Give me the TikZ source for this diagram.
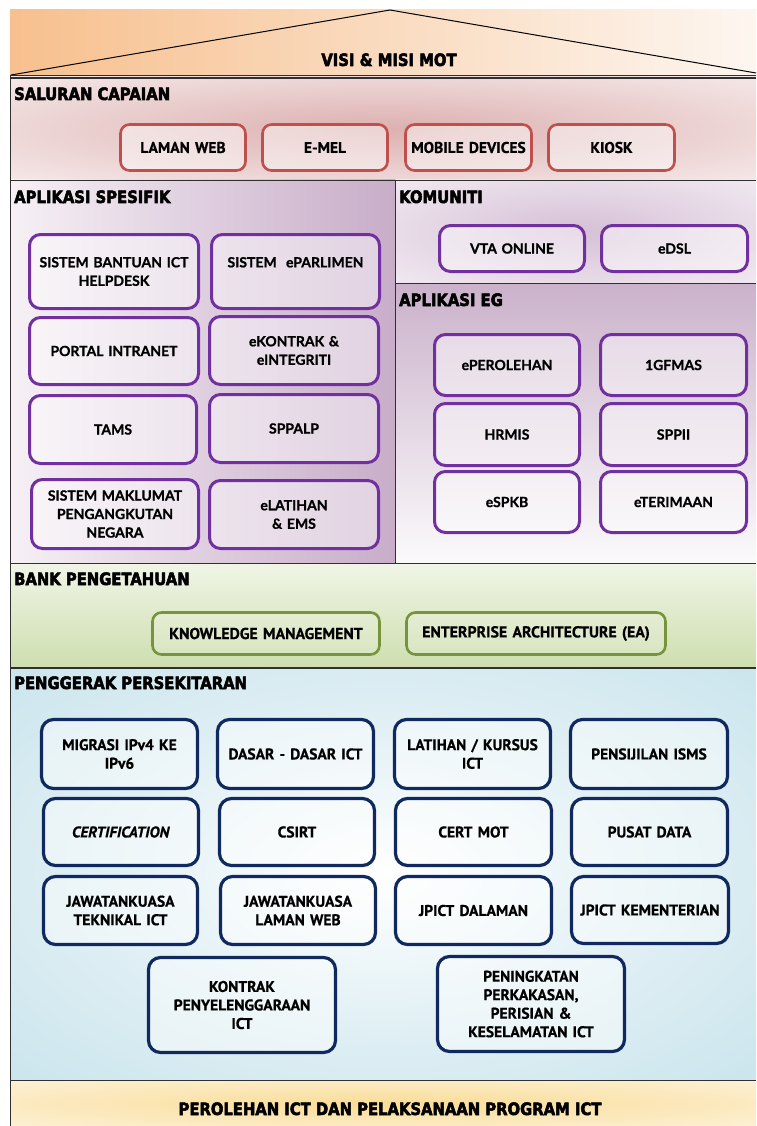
\documentclass[tikz,border=0pt]{standalone}
\usepackage{fontspec}
\setmainfont{Lato}[BoldFeatures={FakeBold=1}]
\newfontfamily\titlefont[FakeStretch=0.87,BoldFeatures={FakeBold=3}]{DejaVu Sans}
\newfontfamily\condfont[BoldFeatures={FakeBold=0.6},BoldItalicFeatures={FakeBold=0.6}]{PT Sans}
\definecolor{boxred}{HTML}{C0504D}
\definecolor{boxpur}{HTML}{7030A0}
\definecolor{boxgrn}{HTML}{77933C}
\definecolor{boxnav}{HTML}{10295E}
\definecolor{secline}{HTML}{303030}
\definecolor{roofL}{HTML}{F7C08E}
\definecolor{roofR}{HTML}{FDF6F0}
\definecolor{pinkc}{HTML}{DDB0B0}
\definecolor{spesL}{HTML}{F6F0F5}
\definecolor{spesR}{HTML}{C8ADC9}
\definecolor{komc}{HTML}{D6C0D6}
\definecolor{egtop}{HTML}{CBB2CB}
\definecolor{egbot}{HTML}{FBFAFB}
\definecolor{banktop}{HTML}{F0F5E6}
\definecolor{bankbot}{HTML}{CEDEAF}
\definecolor{pgblue}{HTML}{ADD6E3}
\definecolor{btmc}{HTML}{F9DC96}
\definecolor{btmo}{HTML}{FEF9EF}
\pgfdeclareradialshading{pinkrad}{\pgfpoint{0bp}{0bp}}{color(0bp)=(pinkc); color(50bp)=(white); color(71bp)=(white)}
\pgfdeclareradialshading{komrad}{\pgfpoint{0bp}{0bp}}{color(0bp)=(komc); color(55bp)=(white); color(71bp)=(white)}
\pgfdeclareradialshading{bluerad}{\pgfpoint{0bp}{0bp}}{color(0bp)=(white); color(20bp)=(white!60!pgblue); color(60bp)=(pgblue); color(71bp)=(pgblue)}
\pgfdeclareradialshading{btmrad}{\pgfpoint{0bp}{0bp}}{color(0bp)=(btmc); color(50bp)=(btmo); color(71bp)=(btmo)}
\newcommand\mkbox[7]{%
  \pgfmathsetmacro\mbcx{(#3+#5)/2}%
  \pgfmathsetmacro\mbcy{(#4+#6)/2}%
  \pgfmathsetmacro\mbw{#5-#3-3}%
  \pgfmathsetmacro\mbh{#6-#4-3}%
  \pgfmathsetmacro\mbtw{#5-#3-6}%
  \node[#1,minimum width=\mbw pt,minimum height=\mbh pt,text width=\mbtw pt] (#2) at (\mbcx,\mbcy) {#7};}
\tikzset{
  sbox/.style={rounded corners=9pt, align=center, inner sep=0pt, fill=white, fill opacity=0.45, text opacity=1,
    font=\bfseries\fontsize{14}{18.5}\selectfont},
  redbox/.style={sbox, draw=boxred, line width=2.6pt, font=\condfont\bfseries\fontsize{15.5}{18}\selectfont},
  purbox/.style={sbox, draw=boxpur, line width=3pt, rounded corners=11pt},
  grnbox/.style={sbox, draw=boxgrn, line width=2.6pt, fill opacity=0.15, font=\condfont\bfseries\fontsize{15.8}{18}\selectfont},
  navbox/.style={sbox, draw=boxnav, line width=3.2pt, rounded corners=12pt, font=\condfont\bfseries\fontsize{15.5}{18.5}\selectfont},
  secl/.style={draw=secline, line width=1.2pt},
  ttl/.style={font=\titlefont\bfseries\fontsize{17}{20}\selectfont, anchor=base west, inner sep=0pt},
}
\begin{document}
\begin{tikzpicture}[x=1pt,y=-1pt]
\useasboundingbox (0,0) rectangle (756,1126);
\fill[white] (0,0) rectangle (756,1126);
% backgrounds
\shade[left color=roofL, right color=roofR] (10,10) rectangle (756,76);
\shade[shading=pinkrad] (10,77) rectangle (756,180);
\shade[left color=spesL, right color=spesR] (10,180) rectangle (395,563);
\shade[shading=komrad] (396,180) rectangle (756,283);
\shade[top color=egtop, bottom color=egbot] (396,284) rectangle (756,563);
\shade[top color=banktop, bottom color=bankbot] (10,563) rectangle (756,668);
\shade[shading=bluerad] (10,668) rectangle (756,1080);
\shade[shading=btmrad] (10,1081) rectangle (756,1126);
% roof
\coordinate (rl) at (11,75);
\coordinate (ra) at (390,10);
\coordinate (rr) at (756,73);
\draw[line width=1pt] (rl) -- (ra) -- (rr);
% section lines
\draw[secl] (10,75.5) -- (756,75.5);
\draw[secl] (10,78) -- (756,78);
\draw[secl] (10.5,75) -- (10.5,1126);
\draw[secl] (10,180.5) -- (756,180.5);
\draw[secl] (395.5,180) -- (395.5,563);
\draw[secl] (396,283.5) -- (756,283.5);
\draw[secl] (10,563.5) -- (756,563.5);
\draw[secl] (10,668) -- (756,668);
\draw[secl] (10,1080.5) -- (756,1080.5);
% titles
\node[ttl, anchor=base] (visi) at (389,66) {VISI \& MISI MOT};
\node[ttl] (tsal) at (14,100) {SALURAN CAPAIAN};
\node[ttl] (tspe) at (14,203) {APLIKASI SPESIFIK};
\node[ttl] (tkom) at (399,203) {KOMUNITI};
\node[ttl] (teg) at (399,306) {APLIKASI EG};
\node[ttl] (tbank) at (14,585) {BANK PENGETAHUAN};
\node[ttl] (tpen) at (14,689) {PENGGERAK PERSEKITARAN};
\node[ttl, anchor=base] (tper) at (390,1115) {PEROLEHAN ICT DAN PELAKSANAAN PROGRAM ICT};
% saluran capaian
\mkbox{redbox}{web}{119}{123}{247}{172}{LAMAN WEB}
\mkbox{redbox}{emel}{261}{123}{389}{172}{E-MEL}
\mkbox{redbox}{mobile}{404}{123}{533}{172}{MOBILE DEVICES}
\mkbox{redbox}{kiosk}{547}{123}{676}{172}{KIOSK}
% aplikasi spesifik
\mkbox{purbox}{helpdesk}{28}{233}{200}{310}{SISTEM BANTUAN ICT\\HELPDESK}
\mkbox{purbox}{eparlimen}{210}{233}{381}{310}{SISTEM\ \ ePARLIMEN\\\mbox{}}
\mkbox{purbox}{portal}{28}{316}{200}{386}{PORTAL INTRANET}
\mkbox{purbox}{ekontrak}{208}{315}{380}{386}{eKONTRAK \&\\eINTEGRITI}
\mkbox{purbox}{tams}{28}{394}{198}{465}{TAMS}
\mkbox{purbox}{sppalp}{208}{393}{380}{464}{SPPALP}
\mkbox{purbox}{maklumat}{30}{478}{200}{550}{SISTEM MAKLUMAT\\PENGANGKUTAN\\NEGARA}
\mkbox{purbox}{elatihan}{208}{479}{380}{550}{eLATIHAN\\\& EMS}
% komuniti
\mkbox{purbox}{vta}{438}{224}{586}{273}{VTA ONLINE}
\mkbox{purbox}{edsl}{600}{224}{749}{273}{eDSL}
% aplikasi eg
\mkbox{purbox}{eperolehan}{433}{333}{581}{397}{ePEROLEHAN}
\mkbox{purbox}{gfmas}{599}{333}{748}{397}{1GFMAS}
\mkbox{purbox}{hrmis}{433}{402}{581}{467}{HRMIS}
\mkbox{purbox}{sppii}{599}{402}{748}{467}{SPPII}
\mkbox{purbox}{espkb}{433}{470}{581}{534}{eSPKB}
\mkbox{purbox}{eterimaan}{599}{470}{748}{534}{eTERIMAAN}
% bank pengetahuan
\mkbox{grnbox}{km}{151}{611}{381}{656}{KNOWLEDGE MANAGEMENT}
\mkbox{grnbox}{ea}{405}{611}{667}{656}{ENTERPRISE ARCHITECTURE (EA)}
% penggerak persekitaran
\mkbox{navbox}{migrasi}{40}{718}{199}{790}{MIGRASI IPv4 KE\\IPv6}
\mkbox{navbox}{dasar}{216}{718}{375}{790}{DASAR - DASAR ICT}
\mkbox{navbox}{latihan}{393}{718}{552}{790}{LATIHAN / KURSUS\\ICT}
\mkbox{navbox}{isms}{569}{718}{729}{790}{PENSIJILAN ISMS}
\mkbox{navbox}{cert}{42}{797}{200}{867}{\textit{CERTIFICATION}}
\mkbox{navbox}{csirt}{218}{797}{376}{867}{CSIRT}
\mkbox{navbox}{certmot}{394}{797}{553}{867}{CERT MOT}
\mkbox{navbox}{pusat}{570}{797}{729}{867}{PUSAT DATA}
\mkbox{navbox}{jtek}{42}{875}{199}{946}{JAWATANKUASA\\TEKNIKAL ICT}
\mkbox{navbox}{jweb}{219}{875}{377}{946}{JAWATANKUASA\\LAMAN WEB}
\mkbox{navbox}{jdal}{394}{875}{553}{946}{JPICT DALAMAN}
\mkbox{navbox}{jkem}{570}{875}{730}{945}{JPICT KEMENTERIAN}
\mkbox{navbox}{kontrak}{147}{956}{337}{1054}{KONTRAK\\PENYELENGGARAAN\\ICT}
\mkbox{navbox}{peningkatan}{436}{955}{626}{1053}{PENINGKATAN\\PERKAKASAN,\\PERISIAN \&\\KESELAMATAN ICT}
\end{tikzpicture}
\end{document}
